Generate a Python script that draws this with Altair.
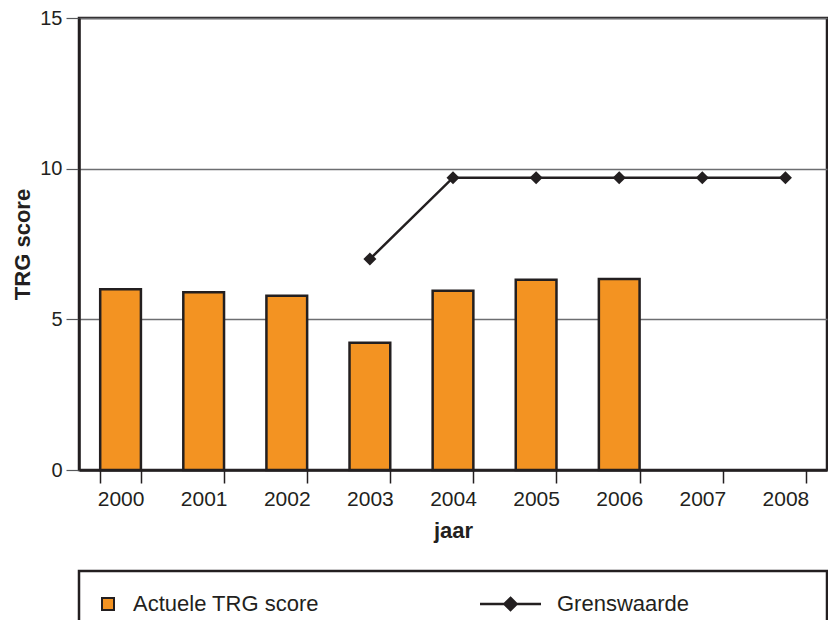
import altair as alt
import pandas as pd

# ---- data ----
years = ["2000", "2001", "2002", "2003", "2004", "2005", "2006", "2007", "2008"]
bar_years = ["2000", "2001", "2002", "2003", "2004", "2005", "2006"]
trg_scores = [6.0, 5.9, 5.78, 4.22, 5.95, 6.31, 6.34]
limit_years = ["2003", "2004", "2005", "2006", "2007", "2008"]
limit_values = [7.0, 9.7, 9.7, 9.7, 9.7, 9.7]
bar_label = "Actuele TRG score"
line_label = "Grenswaarde"
y_ticks = [0, 5, 10, 15]

bars_df = pd.DataFrame({"jaar": bar_years, "score": trg_scores, "reeks": bar_label})
line_df = pd.DataFrame({"jaar": limit_years, "score": limit_values, "reeks": line_label})
box_df = pd.DataFrame({"k": [0]})

W, H = 748, 452
FONT = "Liberation Sans"
DARK = "#231F20"
ORANGE = "#F39322"
GRID = "#6D6E71"
LINE_SYMBOL = "M-1,0L1,0M0,-0.2L0.2,0L0,0.2L-0.2,0Z"

x_enc = alt.X(
    "jaar:O",
    scale=alt.Scale(domain=years, paddingInner=0.51, paddingOuter=0.255),
    axis=alt.Axis(
        title="jaar", labelAngle=0, tickBand="extent", grid=False,
        domainColor=DARK, domainWidth=2.5, tickColor=DARK, tickWidth=1.5,
        tickSize=13, labelPadding=5, titlePadding=11, labelFontSize=21,
    ),
)
y_enc = alt.Y(
    "score:Q",
    scale=alt.Scale(domain=[0, 15], nice=False, zero=True),
    axis=alt.Axis(
        title="TRG score", values=y_ticks, grid=True, gridColor=GRID, gridWidth=1.5,
        domainColor=DARK, domainWidth=2.5, tickColor="#58595B", tickWidth=1.2,
        tickSize=13, labelPadding=4, titlePadding=5, labelFontSize=20,
    ),
)

box = alt.Chart(box_df).mark_rect(
    fill="transparent", stroke=DARK, strokeWidth=2.5
).encode(
    x=alt.value(0), x2=alt.value(W), y=alt.value(553), y2=alt.value(720)
)

bars = alt.Chart(bars_df).mark_bar(stroke=DARK, strokeWidth=2.5).encode(
    x=x_enc,
    y=y_enc,
    fill=alt.Fill(
        "reeks:N",
        scale=alt.Scale(domain=[bar_label], range=[ORANGE]),
        legend=alt.Legend(
            orient="none", legendX=18, legendY=575, title=None, padding=0,
            symbolType="square", symbolSize=144, symbolStrokeColor=DARK,
            symbolStrokeWidth=2, symbolFillColor=ORANGE,
            labelFont=FONT, labelFontSize=22, labelColor=DARK, labelOffset=14,
            labelLimit=500,
        ),
    ),
)

line = alt.Chart(line_df).mark_line(strokeWidth=2.5).encode(
    x=x_enc,
    y=y_enc,
    stroke=alt.Stroke(
        "reeks:N",
        scale=alt.Scale(domain=[line_label], range=[DARK]),
        legend=alt.Legend(
            orient="none", legendX=399.5, legendY=554, title=None, padding=0,
            symbolType=LINE_SYMBOL, symbolSize=3721, symbolStrokeWidth=2.5,
            symbolStrokeColor=DARK, symbolFillColor=DARK,
            labelFont=FONT, labelFontSize=22, labelColor=DARK, labelOffset=14.5,
            labelLimit=500,
        ),
    ),
)

points = alt.Chart(line_df).mark_point(
    shape="diamond", filled=True, size=170, color=DARK, opacity=1
).encode(x=x_enc, y=y_enc)

chart = (
    alt.layer(box, bars, line, points)
    .properties(
        width=W, height=H,
        autosize=alt.AutoSizeParams(type="none"),
        padding={"left": 71, "top": 10, "right": 1, "bottom": 150},
    )
    .configure_view(stroke=DARK, strokeWidth=2.5)
    .configure_axis(
        labelFont=FONT, labelColor=DARK,
        titleFont=FONT, titleFontSize=22, titleFontWeight="bold", titleColor=DARK,
    )
)

chart.save("out.html", embed_options={"renderer": "svg", "actions": False})
